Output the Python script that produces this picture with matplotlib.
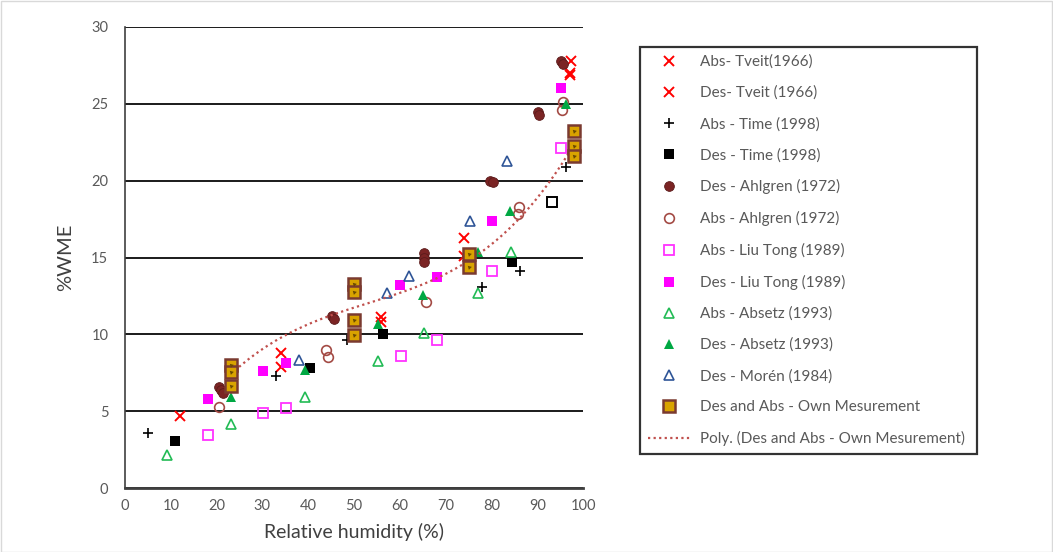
import numpy as np
import matplotlib
matplotlib.use("Agg")
import matplotlib.pyplot as plt
from matplotlib.patches import Rectangle

plt.rcParams['font.family'] = ['Lato', 'DejaVu Sans']

# ---- data (relative humidity %, %WME) ----
abs_tveit_x = [12.0, 34.0, 56.0, 74.0, 97.4]
abs_tveit_y = [4.7, 8.8, 11.1, 16.3, 27.8]
des_tveit_x = [34.0, 56.0, 74.0, 97.2, 97.2]
des_tveit_y = [7.9, 10.8, 15.1, 26.9, 27.0]

abs_time_x = [5.0, 33.0, 48.5, 78.0, 86.2, 96.3]
abs_time_y = [3.6, 7.3, 9.6, 13.1, 14.1, 20.9]
des_time_x = [11.0, 40.4, 56.4, 84.5]
des_time_y = [3.05, 7.8, 10.0, 14.7]
extra_time_x = [93.2]
extra_time_y = [18.6]

des_ahlgren_x = [20.5, 21.0, 21.5, 45.2, 45.6, 65.3, 65.3, 65.3, 79.8, 80.4, 90.2, 90.4, 95.2, 95.6]
des_ahlgren_y = [6.55, 6.35, 6.15, 11.2, 11.0, 15.3, 15.0, 14.7, 19.95, 19.9, 24.5, 24.3, 27.8, 27.6]
abs_ahlgren_x = [20.5, 43.9, 44.3, 65.7, 86.0, 85.8, 95.6, 95.5]
abs_ahlgren_y = [5.3, 9.0, 8.5, 12.1, 18.3, 17.8, 25.1, 24.6]

abs_liu_x = [18.1, 30.1, 35.2, 60.3, 68.1, 80.1, 95.2]
abs_liu_y = [3.45, 4.9, 5.2, 8.6, 9.6, 14.1, 22.1]
des_liu_x = [18.1, 30.1, 35.2, 60.0, 68.1, 80.1, 95.2]
des_liu_y = [5.8, 7.6, 8.15, 13.2, 13.7, 17.4, 26.0]

abs_absetz_x = [9.2, 23.1, 39.3, 55.2, 65.3, 77.1, 84.3]
abs_absetz_y = [2.15, 4.15, 5.9, 8.25, 10.1, 12.7, 15.35]
des_absetz_x = [23.1, 39.3, 55.2, 65.1, 77.1, 84.1, 96.3]
des_absetz_y = [5.9, 7.7, 10.7, 12.55, 15.35, 18.0, 25.0]

des_moren_x = [38.0, 57.2, 62.0, 75.3, 83.4]
des_moren_y = [8.3, 12.7, 13.8, 17.4, 21.3]

own_x = [23.1, 23.1, 23.1, 50.0, 50.0, 50.0, 50.0, 75.1, 75.1, 98.0, 98.0, 98.0]
own_y = [8.0, 7.55, 6.65, 13.3, 12.75, 10.95, 9.95, 15.2, 14.4, 23.2, 22.25, 21.6]

x_ticks = list(range(0, 101, 10))
y_ticks = list(range(0, 31, 5))

W, H = 1053, 552
fig = plt.figure(figsize=(W / 100, H / 100), dpi=100)
fig.patch.set_facecolor('white')
fig.add_artist(Rectangle((0.5 / W, 0.5 / H), 1 - 1.5 / W, 1 - 1.5 / H, transform=fig.transFigure,
                         fill=False, edgecolor='#d9d9d9', lw=1))

ax = fig.add_axes([125 / W, 1 - 488 / H, (583 - 125) / W, (488 - 27) / H])
ax.set_xlim(0, 100)
ax.set_ylim(0, 30)
ax.set_xticks(x_ticks)
ax.set_yticks(y_ticks)
ax.tick_params(length=0, labelsize=10.5, labelcolor='#595959', pad=8)
ax.tick_params(axis='y', pad=12)
for s in ['top', 'right']:
    ax.spines[s].set_visible(False)
ax.spines['left'].set_color('#404040')
ax.spines['left'].set_linewidth(1.2)
ax.spines['bottom'].set_color('#404040')
ax.spines['bottom'].set_linewidth(2.0)
ax.set_axisbelow(True)
ax.grid(axis='y', color='#1a1a1a', lw=1.4)

ax.set_xlabel('Relative humidity (%)', fontsize=14, color='#404040', labelpad=7)
ax.set_ylabel('%WME', fontsize=14.5, color='#404040', labelpad=12)

h = []
h += ax.plot(abs_tveit_x, abs_tveit_y, 'x', color='#ff0000', ms=6.5, mew=1.4, label='Abs- Tveit(1966)')
h += ax.plot(des_tveit_x, des_tveit_y, 'x', color='#ff0000', ms=6.5, mew=1.4, label='Des- Tveit (1966)')
h += ax.plot(abs_time_x, abs_time_y, '+', color='#000000', ms=6.5, mew=1.2, label='Abs - Time (1998)')
h += ax.plot(des_time_x, des_time_y, 's', color='#000000', ms=7, mew=0, label='Des - Time (1998)')
ax.plot(extra_time_x, extra_time_y, 's', mfc='none', mec='#000000', ms=6.5, mew=1.4, label='_nolegend_')
h += ax.plot(des_ahlgren_x, des_ahlgren_y, 'o', color='#7b2424', mec='#5a1a1a', ms=7, mew=0.6,
             label='Des - Ahlgren (1972)')
h += ax.plot(abs_ahlgren_x, abs_ahlgren_y, 'o', mfc='none', mec='#a34a44', ms=7, mew=1.2,
             label='Abs - Ahlgren (1972)')
h += ax.plot(abs_liu_x, abs_liu_y, 's', mfc='none', mec='#ff33ff', ms=7, mew=1.3, label='Abs - Liu Tong (1989)')
h += ax.plot(des_liu_x, des_liu_y, 's', color='#ff00ff', ms=7.5, mew=0, label='Des - Liu Tong (1989)')
h += ax.plot(abs_absetz_x, abs_absetz_y, '^', mfc='none', mec='#22bb55', ms=7, mew=1.2, label='Abs - Absetz (1993)')
h += ax.plot(des_absetz_x, des_absetz_y, '^', color='#00a843', ms=7.5, mew=0, label='Des - Absetz (1993)')
h += ax.plot(des_moren_x, des_moren_y, '^', mfc='none', mec='#2f5597', ms=7, mew=1.2, label='Des - Morén (1984)')
own, = ax.plot(own_x, own_y, 's', mfc='#d9a300', mec='#7a3a30', ms=8, mew=1.8,
               label='Des and Abs - Own Mesurement', zorder=5)
ax.plot(own_x, own_y, marker=(3, 0, 45), ls='none', mfc='#6b4a00', mec='none', ms=3.5, zorder=6)
h.append(own)

coef = np.polyfit(own_x, own_y, 3)
xs = np.linspace(min(own_x), max(own_x), 200)
trend, = ax.plot(xs, np.polyval(coef, xs), ls=(0, (1, 1.5)), color='#c0504d', lw=1.6,
                 label='Poly. (Des and Abs - Own Mesurement)', zorder=4)
h.append(trend)

leg = fig.legend(handles=h, loc='upper left',
                 bbox_to_anchor=(640 / W, 1 - 455 / H, 337 / W, 408 / H), mode='expand',
                 fontsize=11, labelcolor='#595959', frameon=True, fancybox=False,
                 edgecolor='#000000', borderpad=0.5, labelspacing=1.1, handlelength=2.8,
                 handletextpad=0.6, borderaxespad=0)
leg.get_frame().set_linewidth(1.6)

fig.savefig('out.png', dpi=100)
